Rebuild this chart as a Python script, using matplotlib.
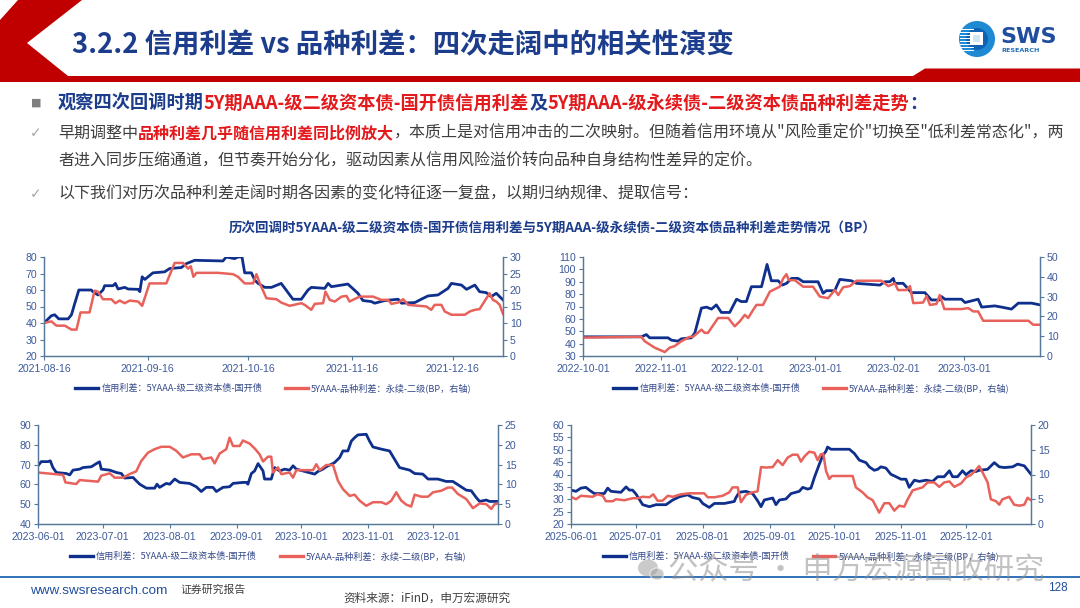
import matplotlib
matplotlib.use('Agg')
import matplotlib.pyplot as plt
import matplotlib.dates as mdates
from matplotlib.patches import Polygon, Circle, Rectangle, Ellipse
from matplotlib.lines import Line2D
import numpy as np

W, H = 1080, 608
CJK = ['Noto Sans CJK SC', 'DejaVu Sans']
LAT = ['Liberation Sans', 'DejaVu Sans']
plt.rcParams['font.family'] = CJK
plt.rcParams['axes.unicode_minus'] = False

# ---------------- data ----------------
legend_blue = '信用利差：5YAAA-级二级资本债-国开债'
legend_red = '5YAAA-品种利差：永续-二级(BP，右轴)'

# chart 1 : 2021-08-16 .. 2021-12-31
c1_start = '2021-08-16'
c1_xticks = ['2021-08-16', '2021-09-16', '2021-10-16', '2021-11-16', '2021-12-16']
c1_yleft = [20, 30, 40, 50, 60, 70, 80]
c1_yright = [0, 5, 10, 15, 20, 25, 30]
c1_blue_day = [0, 2.2, 3.2, 4.4, 7.2, 8.2, 9.2, 10.4, 14.1, 14.6, 16.1, 17.6, 18.1, 20.6, 21.3, 22.1, 24.1, 25.1,
               28.1, 28.6, 29.3, 30.1, 32.5, 36.0, 37.5, 41.0, 42.5, 45.0, 53.4, 54.4, 56.9, 57.9, 59.1, 59.9,
               61.9, 62.9, 63.9, 65.9, 67.9, 70.8, 74.3, 76.8, 78.8, 79.8, 83.8, 84.8, 85.8, 90.7, 93.7, 95.2,
               97.7, 98.7, 101.7, 105.7, 106.7, 110.7, 112.6, 114.6, 117.6, 120.6, 121.6, 124.6, 126.1, 128.6,
               130.0, 132.0, 133.5, 135.0, 137.0]
c1_blue_val = [40, 44.4, 45, 42.5, 42.5, 45, 52, 60, 60, 59, 57, 60, 62.6, 62.6, 64, 60.6, 61.6, 60.6,
               60.4, 59, 68, 66.4, 70.4, 71, 73, 73.6, 76, 78, 77.6, 80, 79, 80, 80, 70.4,
               70.4, 66, 64, 61.6, 61.6, 64, 54.4, 54.4, 60, 61.6, 61, 64, 62, 63.6, 58, 53.6,
               53, 52, 53.6, 54.4, 52, 52.4, 54.4, 56.4, 57, 61, 64, 63, 60.4, 63,
               59, 58.4, 56, 58, 54]
c1_red_day = [0, 2.2, 3.7, 6.2, 8.2, 9.7, 10.9, 13.6, 15.1, 16.1, 17.6, 20.1, 21.3, 22.6, 24.1, 25.6, 28.1,
              29.3, 31.5, 36.5, 39.0, 41.5, 43.0, 43.8, 44.6, 45.5, 51.9, 56.4, 57.9, 59.9, 62.4, 63.4, 64.4,
              66.4, 69.4, 70.8, 73.3, 76.8, 77.8, 79.8, 80.8, 83.3, 84.0, 85.3, 86.8, 88.8, 90.3, 91.2, 94.2,
              98.2, 100.7, 102.7, 103.7, 105.7, 107.2, 108.7, 114.1, 115.6, 116.6, 118.6, 119.6, 121.6, 125.6,
              127.1, 128.6, 130.0, 133.0, 134.0, 135.0, 136.0, 137.0]
c1_red_val = [10, 10.5, 9.2, 9.2, 8, 8, 13.2, 13.2, 19.8, 19.5, 17.2, 17.2, 16, 16.8, 16, 16.8, 16.5,
              15.2, 22, 22, 28.2, 28.2, 26.5, 27.2, 24, 25.2, 25.2, 24.8, 24, 22, 22, 24.8, 22,
              17.5, 17.2, 16.2, 15.2, 16, 15.5, 14, 15.8, 16, 19.5, 17, 16.5, 18, 18.2, 16.5, 18,
              18, 17, 17, 15.8, 16.2, 17.2, 15.5, 15, 14, 15.5, 15.5, 13.5, 12.5, 12.5,
              13.5, 14, 14.2, 19, 17, 16.5, 15.5, 12.8]

# chart 2 : 2022-10-01 .. 2023-03-31
c2_start = '2022-10-01'
c2_xticks = ['2022-10-01', '2022-11-01', '2022-12-01', '2023-01-01', '2023-02-01', '2023-03-01']
c2_yleft = [30, 40, 50, 60, 70, 80, 90, 100, 110]
c2_yright = [0, 10, 20, 30, 40, 50]
c2_blue_day = [0, 23.1, 25.1, 26.4, 33.7, 35.0, 37.6, 39.0, 42.9, 44.3, 46.9, 48.9, 50.9, 52.8, 54.8, 58.1,
               60.8, 62.7, 64.7, 66.7, 70.7, 72.9, 74.6, 77.3, 78.9, 80.6, 82.6, 85.2, 87.2, 93.1, 95.1, 96.4,
               99.7, 101.7, 106.3, 108.3, 117.6, 119.5, 121.5, 122.9, 123.5, 126.8, 130.1, 135.4, 138.0, 141.3,
               142.0, 143.3, 149.9, 151.3, 156.5, 157.9, 163.1, 165.8, 169.7, 172.4, 177.7, 181.0]
c2_blue_val = [45.5, 45.5, 47.3, 44.7, 44.7, 42.8, 42, 43.9, 44.7, 48.7, 68.7, 69.5, 67.9, 71.3, 65.2, 65.2,
               75.9, 74, 74, 86, 86, 104, 90.8, 90.8, 87.3, 88.7, 92.7, 92.7, 90, 90, 80.7, 82.8,
               82.8, 91.9, 90.8, 88.7, 87.3, 90, 90, 92.7, 88.7, 88.7, 81.2, 81.2, 75.3, 75.3,
               78, 75.9, 75.9, 73.2, 75.9, 69.5, 70.5, 69.5, 67.9, 72.7, 72.7, 71.3]
c2_red_day = [0, 23.1, 24.4, 28.4, 32.4, 34.3, 36.3, 39.0, 42.3, 43.6, 46.9, 48.2, 49.5, 53.5, 57.5, 60.1,
              62.1, 64.1, 65.4, 67.4, 68.7, 71.3, 74.0, 75.9, 77.9, 79.3, 80.6, 81.5, 83.9, 87.2, 91.1, 93.8,
              97.1, 99.7, 101.1, 103.0, 105.7, 108.3, 118.2, 120.9, 123.5, 124.8, 128.1, 129.5, 130.8, 134.7,
              136.1, 137.4, 140.0, 141.3, 143.1, 149.9, 152.6, 154.6, 156.5, 158.5, 176.4, 178.3, 181.0]
c2_red_val = [9.3, 9.7, 7.5, 4.2, 2, 4.2, 5, 7.5, 9.7, 9.7, 13.3, 11.7, 11.7, 19.2, 19.2, 15,
              17.5, 20.8, 19.2, 23.3, 25.8, 25.8, 32.5, 33.7, 35, 39.2, 41.3, 38.3, 38.3, 35, 35, 30,
              29.2, 33.3, 30.8, 34.7, 35.3, 38, 38, 35.3, 36.7, 33.3, 33.3, 35.3, 26.7, 27,
              30.3, 25.8, 26.3, 30.8, 23.7, 23.7, 24.2, 22.5, 22.5, 17.8, 17.8, 15.8, 15.8]

# chart 3 : 2023-06-01 .. 2023-12-31
c3_start = '2023-06-01'
c3_xticks = ['2023-06-01', '2023-07-01', '2023-08-01', '2023-09-01', '2023-10-01', '2023-11-01', '2023-12-01']
c3_yleft = [40, 50, 60, 70, 80, 90]
c3_yright = [0, 5, 10, 15, 20, 25]
c3_blue_day = [0, 1.5, 4.6, 5.7, 6.9, 8.5, 13.1, 14.7, 16.2, 19.3, 20.8, 24.7, 27.0, 28.5, 29.3, 33.2, 36.3,
               38.6, 40.1, 44.0, 45.5, 47.1, 50.2, 54.0, 55.1, 56.3, 59.4, 61.0, 63.3, 65.6, 70.2, 73.3, 75.6,
               77.9, 81.0, 82.6, 85.6, 88.7, 90.3, 94.9, 96.5, 97.2, 98.8, 100.3, 101.9, 104.2, 104.9, 108.0,
               109.6, 111.9, 114.2, 116.5, 118.1, 119.6, 128.1, 129.6, 131.9, 133.5, 137.3, 139.7, 141.2, 143.5,
               145.1, 146.6, 148.1, 152.0, 153.5, 155.1, 159.0, 162.8, 165.1, 167.4, 172.1, 174.4, 178.2, 180.6,
               185.2, 189.0, 192.1, 195.2, 198.3, 200.6, 202.9, 204.5, 207.6, 209.1, 213.0]
c3_blue_val = [69.4, 71.5, 71.5, 71.9, 68.5, 66, 65.5, 64.8, 67.2, 67.7, 68.5, 68.9, 70.5, 71.4, 67.7, 67.2, 66,
               65.5, 63.2, 63.5, 61.8, 60.1, 58.1, 58.1, 60.1, 58.5, 60.5, 60.1, 62.7, 61, 60.5, 58.8, 56.4,
               58.5, 58.5, 56.4, 58.5, 58.8, 60.5, 61, 61, 60.1, 65.5, 66.8, 70.5, 66.8, 62.7, 62.7,
               68.5, 66.8, 67.7, 67.2, 69.4, 67.7, 65.2, 66.5, 67.7, 68.9, 71, 73.6, 76.9, 76.9,
               81.9, 83.6, 85, 85.3, 81.9, 78.9, 77.8, 76.9, 72.7, 68.5, 67.2, 65.5, 65.2, 62.7,
               62.7, 61.5, 61.5, 59.3, 57.1, 56.8, 53.4, 51.4, 52.1, 51.4, 51.4]
c3_red_day = [0, 3.9, 11.6, 12.7, 17.7, 19.3, 27.8, 29.3, 33.2, 35.5, 39.4, 42.4, 45.5, 47.8, 50.9, 54.0, 57.1,
              61.0, 64.0, 67.1, 71.0, 74.8, 76.4, 80.2, 81.8, 84.1, 87.2, 88.7, 90.3, 93.4, 94.9, 98.0, 100.3,
              102.6, 104.2, 106.5, 108.0, 108.8, 111.1, 112.7, 116.5, 118.1, 119.6, 127.3, 128.9, 130.4, 133.5,
              136.6, 138.9, 141.2, 144.3, 146.6, 148.9, 152.0, 155.1, 159.0, 161.3, 163.6, 165.9, 168.2, 170.5,
              172.8, 174.4, 177.5, 180.6, 182.9, 186.7, 189.8, 191.8, 194.4, 198.3, 201.4, 204.5, 207.6, 209.9,
              211.4, 213.0]
c3_red_val = [13, 12.8, 12.4, 10.5, 10.1, 11.1, 10.7, 12.2, 12.8, 11.7, 11.7, 12.6, 13.3, 15.9, 18, 18.9, 19.5,
              19.5, 18.5, 16.8, 17.6, 17.6, 16.4, 16.8, 15.3, 17.8, 18.9, 21.8, 19.7, 19.7, 21.1, 20.3, 19.1,
              17.6, 15.8, 17, 17, 13, 14.3, 12.6, 13, 11.7, 13.6, 13.6, 15.1, 13.6, 14.9,
              14.9, 10.9, 8.8, 7.1, 7.4, 5.9, 4.6, 5.5, 5.5, 5, 5.9, 8, 5.9, 4.9,
              4.4, 7.4, 6.9, 6.9, 8, 8.4, 9.2, 9.2, 7.6, 6.3, 4, 5.2, 5, 3.8,
              5, 5.2]

# chart 4 : 2025-06-01 .. 2025-12-31
c4_start = '2025-06-01'
c4_xticks = ['2025-06-01', '2025-07-01', '2025-08-01', '2025-09-01', '2025-10-01', '2025-11-01', '2025-12-01']
c4_yleft = [20, 25, 30, 35, 40, 45, 50, 55, 60]
c4_yright = [0, 5, 10, 15, 20]
c4_blue_day = [0, 2.3, 4.6, 6.9, 8.5, 10.8, 15.4, 17.0, 18.5, 23.1, 25.5, 27.0, 28.5, 30.1, 33.2, 36.3, 39.4,
               44.0, 47.1, 50.2, 54.0, 56.3, 59.4, 61.0, 64.0, 66.4, 71.0, 73.3, 75.6, 76.4, 77.9, 81.0, 84.1,
               86.4, 88.0, 89.5, 93.4, 94.9, 96.5, 99.5, 101.9, 105.7, 107.3, 109.6, 111.1, 112.7, 115.0, 116.5,
               118.1, 118.8, 120.4, 128.9, 131.2, 133.5, 136.6, 138.1, 140.4, 142.0, 143.5, 145.8, 148.1, 150.5,
               152.8, 155.1, 156.6, 159.0, 161.3, 164.4, 167.4, 169.8, 172.8, 175.2, 176.7, 179.0, 181.3, 182.9,
               185.2, 187.5, 189.0, 192.9, 196.0, 198.3, 200.6, 204.5, 206.8, 209.9, 213.0]
c4_blue_val = [33.7, 33.2, 34.5, 34.8, 33.7, 32.3, 32.3, 34.5, 33.2, 32.8, 35, 33.7, 33.7, 32.1, 27.8, 27, 27.8,
               27.8, 29.7, 31, 31.8, 30.7, 30.1, 28.3, 26.7, 28.3, 28.3, 28.7, 29.1, 30.7, 32.8, 33.2, 32.3,
               29.4, 27, 29.7, 30.5, 27.8, 29.7, 30.1, 32.3, 33.2, 34.8, 34.1, 34.5, 38.8, 44.2, 47.5,
               49.5, 51.1, 50.2, 50.2, 48.5, 45.8, 44.8, 43.1, 41.7, 42.1, 43.1, 42.6, 40.1, 39.1,
               38.1, 38.1, 34.8, 37.7, 37.2, 37.7, 37.2, 39.1, 39.1, 41.5, 39.1, 39.1, 41.5, 39.9,
               41.5, 41.2, 41.7, 42.1, 44.8, 43.1, 42.8, 43.1, 44.2, 43.5, 40.1]
c4_red_day = [0, 2.3, 4.6, 10.0, 12.3, 14.7, 16.2, 19.3, 20.8, 24.7, 28.5, 30.9, 33.2, 36.3, 38.1, 40.1, 42.4,
              44.8, 47.1, 50.9, 54.8, 59.4, 61.7, 63.3, 66.4, 70.2, 73.3, 74.8, 77.2, 78.7, 81.0, 84.1, 86.4,
              88.0, 90.3, 93.4, 95.7, 98.0, 100.3, 102.6, 104.9, 106.5, 108.0, 110.3, 112.7, 114.2, 115.7, 116.8,
              118.1, 119.6, 120.8, 130.4, 131.9, 135.0, 137.3, 139.7, 142.7, 145.1, 147.4, 149.7, 152.0, 154.3,
              155.9, 158.2, 162.8, 165.1, 168.2, 170.5, 172.8, 175.2, 177.5, 180.6, 182.9, 185.2, 187.5, 189.0,
              190.6, 192.9, 194.4, 196.8, 198.3, 199.8, 202.9, 205.2, 207.6, 209.9, 211.4, 213.0]
c4_red_val = [5.5, 5, 5.7, 5.5, 6, 5.7, 4.6, 4.6, 5, 4.8, 5.2, 5.2, 5.5, 5.4, 6, 4.7, 4.7,
              5.7, 5.5, 6, 6.2, 6.2, 6.2, 5.4, 5.4, 5.7, 6.4, 7.4, 7.4, 4.4, 5.9, 6.4, 6.6,
              11.5, 11.4, 11.5, 12.9, 11.9, 13.4, 14, 14, 12.6, 13.6, 14.6, 14.4, 12.9, 14.1, 14.2,
              10.7, 9.1, 9.7, 9.7, 7.4, 6.4, 5.4, 4.8, 2.3, 4.2, 4.2, 2.7, 3.7, 3.5,
              5, 6.8, 7.4, 8.4, 8.4, 7.5, 8.4, 8.6, 7.5, 8.2, 9.4, 9.9, 10.9, 11.7,
              10.4, 8.4, 5, 4.6, 3.9, 5, 5.5, 3.9, 3.7, 3.9, 5.3, 4.8]

# ---------------- style ----------------
NAVY = '#1C3C8C'
RED_T = '#E3191C'
GREY_T = '#3F3F3F'
BLUE = '#0E2F8C'
RED = '#E8615B'
AXC = '#56789A'
TKC = '#3D5A9A'
LEGC = '#34498A'

fig = plt.figure(figsize=(W / 100, H / 100), dpi=100)
fig.patch.set_facecolor('white')
bg = fig.add_axes([0, 0, 1, 1], zorder=-5)
bg.set_xlim(0, W)
bg.set_ylim(H, 0)
bg.axis('off')
renderer = fig.canvas.get_renderer()


def text_width(txt, size, weight, family):
    t = bg.text(0, 0, txt, fontsize=size, fontweight=weight, family=family)
    w = t.get_window_extent(renderer=renderer).width
    t.remove()
    return w


def fit_size(parts, target, family=CJK, base=10.0):
    w = sum(text_width(p[0], base, p[2], family) for p in parts)
    return base * target / w


def rich(x, y, parts, size, family=CJK, ax=bg, alpha=1.0):
    for txt, col, wt in parts:
        t = ax.text(x, y, txt, fontsize=size, fontweight=wt, color=col, family=family,
                    va='center', ha='left', alpha=alpha)
        x += t.get_window_extent(renderer=renderer).width
    return x


# ---------------- header ----------------
bg.add_patch(Polygon([(0, 20), (18, 0), (82, 0), (27, 43), (68, 76), (913, 76), (925, 68.5),
                      (1080, 68.5), (1080, 82), (0, 82)], closed=True, facecolor='#C00000',
                     edgecolor='none'))
title_parts = [('3.2.2 信用利差 vs 品种利差：四次走阔中的相关性演变', NAVY, 'bold')]
rich(72, 45, title_parts, fit_size(title_parts, 661))

# logo
bg.add_patch(Circle((977, 39), 18, facecolor='#1E8AD3', edgecolor='none'))
bg.add_patch(Circle((977, 39), 11, facecolor='#0F62B4', edgecolor='none'))
for yy in range(29, 51, 3):
    bg.add_patch(Rectangle((960, yy), 14, 1.4, facecolor='white', edgecolor='none'))
bg.add_patch(Rectangle((970, 32), 13, 13, facecolor='white', edgecolor='none'))
bg.add_patch(Rectangle((973, 35), 7, 7, facecolor='#CFE6F7', edgecolor='none'))
bg.text(1000, 37, 'SWS', fontsize=16, fontweight='bold', color='#1F4E9E', family=['DejaVu Sans'],
        va='center', ha='left')
bg.text(1001, 51, 'RESEARCH', fontsize=4.6, fontweight='bold', color='#1F6FB8', family=['DejaVu Sans'],
        va='center', ha='left')

# ---------------- bullet text ----------------
bg.text(36, 103, '■', fontsize=8, color='#7F7F7F', family=['DejaVu Sans'], va='center', ha='center')
l1 = [('观察四次回调时期', NAVY, 'bold'), ('5Y期AAA-级二级资本债-国开债信用利差', RED_T, 'bold'),
      ('及', NAVY, 'bold'), ('5Y期AAA-级永续债-二级资本债品种利差走势', RED_T, 'bold'), ('：', NAVY, 'bold')]
rich(58, 103, l1, fit_size(l1, 867))

l2 = [('早期调整中', GREY_T, 'normal'), ('品种利差几乎随信用利差同比例放大', RED_T, 'bold'),
      ('，本质上是对信用冲击的二次映射。但随着信用环境从"风险重定价"切换至"低利差常态化"，两', GREY_T, 'normal')]
s_body = fit_size(l2, 1007)
rich(58, 133, l2, s_body)
rich(58, 161, [('者进入同步压缩通道，但节奏开始分化，驱动因素从信用风险溢价转向品种自身结构性差异的定价。', GREY_T, 'normal')], s_body)
rich(58, 194, [('以下我们对历次品种利差走阔时期各因素的变化特征逐一复盘，以期归纳规律、提取信号：', GREY_T, 'normal')], s_body)
for yy in (133, 194):
    bg.text(36, yy, '✓', fontsize=10, color='#A6A6A6', family=['DejaVu Sans'], va='center', ha='center')

ct = [('历次回调时5YAAA-级二级资本债-国开债信用利差与5Y期AAA-级永续债-二级资本债品种利差走势情况（BP）', NAVY, 'bold')]
rich(229, 228, ct, fit_size(ct, 648))


# ---------------- charts ----------------
def chart(rect, start, xticks, yleft, yright, b_day, b_val, r_day, r_val):
    l, t, r, b = rect
    ax = fig.add_axes([l / W, 1 - b / H, (r - l) / W, (b - t) / H])
    ax2 = ax.twinx()
    s = mdates.date2num(np.datetime64(start))
    ax.plot(s + np.asarray(b_day), b_val, color=BLUE, lw=2.0, solid_joinstyle='round')
    ax2.plot(s + np.asarray(r_day), r_val, color=RED, lw=1.8, solid_joinstyle='round')
    ax.set_xlim(s, s + max(b_day[-1], r_day[-1]))
    ax.set_ylim(yleft[0], yleft[-1])
    ax.set_yticks(yleft)
    ax2.set_ylim(yright[0], yright[-1])
    ax2.set_yticks(yright)
    ax.set_xticks([mdates.date2num(np.datetime64(d)) for d in xticks])
    ax.set_xticklabels(xticks)
    for a in (ax, ax2):
        a.set_facecolor('none')
        a.spines['top'].set_visible(False)
        for sp in a.spines.values():
            sp.set_color(AXC)
            sp.set_linewidth(0.9)
        a.tick_params(colors=AXC, labelcolor=TKC, labelsize=7.6, length=3, width=0.8,
                      direction='out', pad=2)
        for lab in a.get_xticklabels() + a.get_yticklabels():
            lab.set_fontfamily(LAT)
    ax.tick_params(axis='x', pad=3)
    hb = Line2D([], [], color=BLUE, lw=2.4)
    hr = Line2D([], [], color=RED, lw=2.4)
    ax2.legend([hb, hr], [legend_blue, legend_red], loc='center',
               bbox_to_anchor=(0.5, -32.0 / (b - t)), ncol=2, frameon=False,
               prop={'family': CJK, 'size': 6.6}, labelcolor=LEGC, handlelength=2.5,
               handletextpad=0.35, columnspacing=2.5, borderaxespad=0)
    return ax, ax2


chart((44, 257, 503, 356), c1_start, c1_xticks, c1_yleft, c1_yright,
      c1_blue_day, c1_blue_val, c1_red_day, c1_red_val)
chart((583, 257, 1040, 356), c2_start, c2_xticks, c2_yleft, c2_yright,
      c2_blue_day, c2_blue_val, c2_red_day, c2_red_val)
chart((38, 425, 498, 524), c3_start, c3_xticks, c3_yleft, c3_yright,
      c3_blue_day, c3_blue_val, c3_red_day, c3_red_val)
chart((571, 425, 1031, 524), c4_start, c4_xticks, c4_yleft, c4_yright,
      c4_blue_day, c4_blue_val, c4_red_day, c4_red_val)

# ---------------- footer ----------------
bg.plot([0, W], [576.5, 576.5], color='#2F72B8', lw=1.4)
f1 = [('www.swsresearch.com', '#1F4E9E', 'normal')]
rich(30, 591, f1, fit_size(f1, 137, family=LAT), family=LAT)
f2 = [('证券研究报告', '#404040', 'normal')]
rich(180, 590, f2, fit_size(f2, 65))
f3 = [('资料来源：iFinD，申万宏源研究', '#404040', 'normal')]
rich(343, 598, f3, fit_size(f3, 167))
bg.text(1068, 588, '128', fontsize=8.5, color='#1F4E9E', family=LAT, va='center', ha='right')

# watermark overlay (drawn on top, as in the reference)
ov = fig.add_axes([0, 0, 1, 1], zorder=20)
ov.set_xlim(0, W)
ov.set_ylim(H, 0)
ov.axis('off')
ov.patch.set_alpha(0)
ov.add_patch(Ellipse((648, 568), 20, 17, facecolor='#A0A0A0', edgecolor='none', alpha=0.55))
ov.add_patch(Ellipse((657, 574), 14, 12, facecolor='#A0A0A0', edgecolor='white', lw=1, alpha=0.55))
wm = [('公众号 · 申万宏源固收研究', '#909090', 'normal')]
rich(668, 571, wm, fit_size(wm, 377), ax=ov, alpha=0.55)

fig.savefig('out.png', dpi=100, facecolor='white')
